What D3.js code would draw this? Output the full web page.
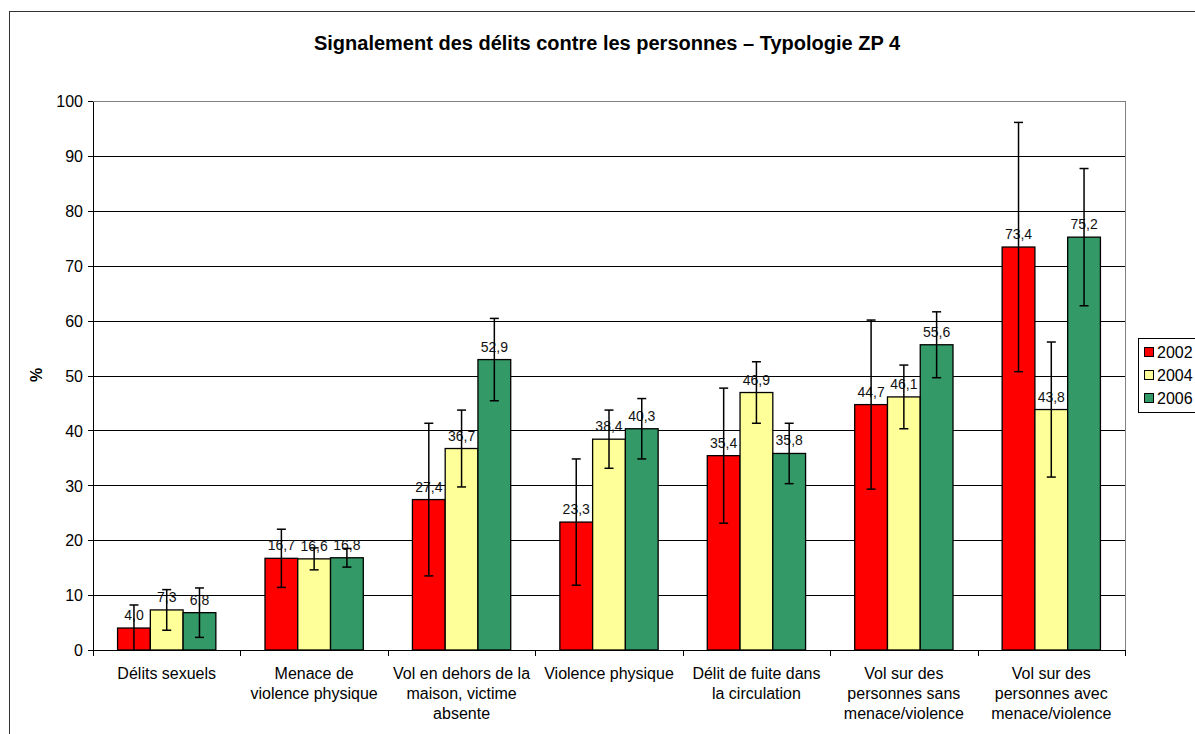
<!DOCTYPE html>
<meta charset="utf-8">
<style>
  body { margin: 0; background: #fff; }
  svg { font-family: "Liberation Sans", Arial, sans-serif; }
  .grid line { stroke: #000; shape-rendering: crispEdges; }
  .axis path, .axis line { stroke: #000; shape-rendering: crispEdges; }
  .axis text { font-size: 16px; fill: #000; }
</style>
<body>
<div id="chart"></div>
<script src="https://d3js.org/d3.v7.min.js"></script>
<script>
  // categories (line breaks as in the original labels)
  var categories = [
    "Délits sexuels",
    "Menace de\nviolence physique",
    "Vol en dehors de la\nmaison, victime\nabsente",
    "Violence physique",
    "Délit de fuite dans\nla circulation",
    "Vol sur des\npersonnes sans\nmenace/violence",
    "Vol sur des\npersonnes avec\nmenace/violence"
  ];
  var years = ["2002", "2004", "2006"];

  var values2002 = [4.0, 16.7, 27.4, 23.3, 35.4, 44.7, 73.4];
  var values2004 = [7.3, 16.6, 36.7, 38.4, 46.9, 46.1, 43.8];
  var values2006 = [6.8, 16.8, 52.9, 40.3, 35.8, 55.6, 75.2];

  // half-width of the error bars
  var err2002 = [4.2, 5.3, 13.9, 11.5, 12.3, 15.4, 22.7];
  var err2004 = [3.7, 2.0, 7.0, 5.3, 5.6, 5.8, 12.3];
  var err2006 = [4.5, 1.7, 7.5, 5.5, 5.5, 6.0, 12.5];

  var yTicks = [0, 10, 20, 30, 40, 50, 60, 70, 80, 90, 100];
  var colors = ["#FF0000", "#FFFF99", "#339966"];

  var series = [values2002, values2004, values2006];
  var errors = [err2002, err2004, err2006];

  var W = 1195, H = 734;
  var margin = { top: 101, left: 93 },
    width = 1125 - 93,
    height = 650 - 101;

  var svg = d3.select("#chart").append("svg")
    .attr("width", W)
    .attr("height", H);

  // outer frame
  svg.append("rect")
    .attr("x", 9.5).attr("y", 11.5)
    .attr("width", W + 20).attr("height", H + 20)
    .attr("fill", "none").attr("stroke", "#333");

  svg.append("text")
    .attr("x", 607).attr("y", 50)
    .attr("text-anchor", "middle")
    .style("font-size", "20px").style("font-weight", "bold")
    .text("Signalement des délits contre les personnes – Typologie ZP 4");

  var g = svg.append("g")
    .attr("transform", "translate(" + margin.left + "," + margin.top + ")");

  var x0 = d3.scaleBand().domain(d3.range(categories.length)).range([0, width]);
  var bw = x0.bandwidth() / 4.5;
  var x1 = d3.scaleBand().domain(d3.range(years.length))
    .range([bw * 0.75, bw * 3.75]);
  var y = d3.scaleLinear().domain([0, 100]).range([height, 0]);

  // gridlines
  g.append("g").attr("class", "grid")
    .selectAll("line").data(yTicks.slice(1)).enter().append("line")
    .attr("x1", 0).attr("x2", width)
    .attr("y1", function(d) { return Math.round(y(d)) + 0.5; })
    .attr("y2", function(d) { return Math.round(y(d)) + 0.5; });

  // plot area border top/right (gray)
  g.append("path")
    .attr("d", "M0," + 0.5 + "H" + (width + 0.5) + "V" + height)
    .attr("fill", "none").attr("stroke", "#808080")
    .style("shape-rendering", "crispEdges");

  // y axis
  g.append("g").attr("class", "axis")
    .call(d3.axisLeft(y).tickValues(yTicks).tickSize(5).tickPadding(5).tickSizeOuter(0))
    .selectAll("text").attr("dy", "0.36em");

  // x axis: ticks at category boundaries
  var xa = g.append("g").attr("class", "axis")
    .attr("transform", "translate(0," + height + ")");
  xa.append("line").attr("x1", 0).attr("x2", width).attr("y1", 0.5).attr("y2", 0.5);
  xa.selectAll(".tk").data(d3.range(categories.length + 1)).enter().append("line")
    .attr("class", "tk")
    .attr("x1", function(d) { return Math.round(d * x0.step()) + 0.5; })
    .attr("x2", function(d) { return Math.round(d * x0.step()) + 0.5; })
    .attr("y1", 0).attr("y2", 6);

  xa.selectAll(".cat").data(categories).enter().append("text")
    .attr("class", "cat")
    .attr("text-anchor", "middle")
    .style("font-size", "16px")
    .attr("transform", function(d, i) {
      return "translate(" + (x0(i) + x0.bandwidth() / 2) + ",29)";
    })
    .each(function(d) {
      var t = d3.select(this);
      d.split("\n").forEach(function(line, k) {
        t.append("tspan").attr("x", 0).attr("y", k * 20).text(line);
      });
    });

  // bars
  var groups = g.selectAll(".grp").data(categories).enter().append("g")
    .attr("class", "grp")
    .attr("transform", function(d, i) { return "translate(" + x0(i) + ",0)"; });

  years.forEach(function(yr, s) {
    groups.append("rect")
      .attr("x", x1(s))
      .attr("y", function(d, i) { return y(series[s][i]); })
      .attr("width", x1.bandwidth())
      .attr("height", function(d, i) { return height - y(series[s][i]); })
      .attr("fill", colors[s])
      .attr("stroke", "#000").attr("stroke-width", 1.3);
  });

  // data labels
  years.forEach(function(yr, s) {
    groups.append("text")
      .attr("x", x1(s) + x1.bandwidth() / 2)
      .attr("y", function(d, i) { return y(series[s][i]) - 8; })
      .attr("text-anchor", "middle")
      .style("font-size", "14px").attr("fill", "#111")
      .text(function(d, i) { return series[s][i].toFixed(1).replace(".", ","); });
  });

  // error bars
  years.forEach(function(yr, s) {
    var cx = x1(s) + x1.bandwidth() / 2;
    groups.each(function(d, i) {
      var v = series[s][i], e = errors[s][i];
      var top = y(Math.min(100, v + e)), bot = y(Math.max(0, v - e));
      var eg = d3.select(this).append("g")
        .attr("stroke", "#000").attr("stroke-width", 1.5);
      eg.append("line").attr("x1", cx).attr("x2", cx).attr("y1", top).attr("y2", bot);
      eg.append("line").attr("x1", cx - 4.5).attr("x2", cx + 4.5).attr("y1", top).attr("y2", top);
      if (v - e > 0)
        eg.append("line").attr("x1", cx - 4.5).attr("x2", cx + 4.5).attr("y1", bot).attr("y2", bot);
    });
  });

  // y label
  svg.append("text")
    .attr("transform", "translate(42,375) rotate(-90)")
    .attr("text-anchor", "middle")
    .style("font-size", "16px").style("font-weight", "bold")
    .text("%");

  // legend
  var lg = svg.append("g").attr("transform", "translate(1138,338)");
  lg.append("rect").attr("x", 0.5).attr("y", 0.5).attr("width", 70).attr("height", 74)
    .attr("fill", "#fff").attr("stroke", "#000");
  years.forEach(function(yr, s) {
    lg.append("rect")
      .attr("x", 6.5).attr("y", 9.5 + s * 23)
      .attr("width", 9).attr("height", 9)
      .attr("fill", colors[s]).attr("stroke", "#000");
    lg.append("text")
      .attr("x", 19).attr("y", 20 + s * 23)
      .style("font-size", "16px")
      .text(yr);
  });
</script>
</body>
